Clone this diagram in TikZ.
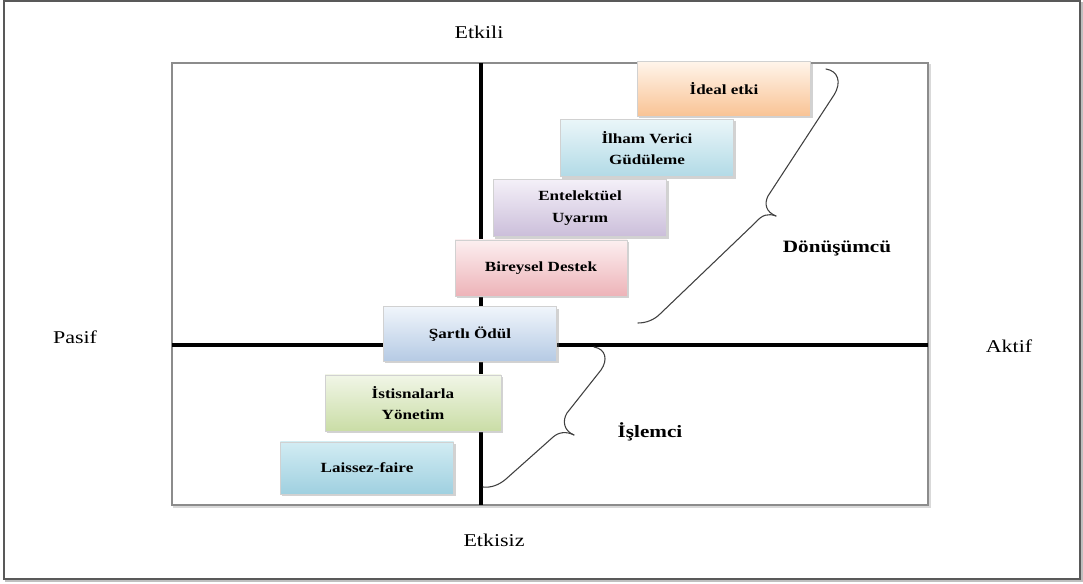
\documentclass[tikz,border=0pt]{standalone}
\usepackage{fontspec}
\setmainfont[FakeStretch=1.22]{Liberation Serif}
\usetikzlibrary{shadows}
\tikzset{
  axis/.style={line width=3pt, black},
  frame/.style={line width=1.3pt, draw=black!65},
  inner/.style={line width=1pt, draw=black!45},
  lbl/.style={font=\fontsize{13.5}{16}\selectfont},
  grp/.style={font=\fontsize{13}{16}\selectfont\bfseries},
  stepbox/.style={rectangle, draw=black!18, line width=0.5pt,
    font=\fontsize{10.5}{14}\selectfont\bfseries, align=center, inner sep=2pt,
    drop shadow={opacity=0.35, shadow xshift=1.6pt, shadow yshift=-1.6pt}},
  bracepath/.style={line width=0.8pt, draw=black!75, line cap=round, line join=round}
}
\definecolor{peach}{HTML}{F9C394}
\definecolor{peachT}{HTML}{FFF4EA}
\definecolor{skyb}{HTML}{B2DAE6}
\definecolor{skybT}{HTML}{EAF6F9}
\definecolor{lilac}{HTML}{CBBEDA}
\definecolor{lilacT}{HTML}{F4F0F8}
\definecolor{rose}{HTML}{EDB3B8}
\definecolor{roseT}{HTML}{FCEFF0}
\definecolor{steel}{HTML}{B5CAE4}
\definecolor{steelT}{HTML}{F0F5FB}
\definecolor{olive}{HTML}{CADDA6}
\definecolor{oliveT}{HTML}{F1F6E7}
\definecolor{teal}{HTML}{9FD0E0}
\definecolor{tealT}{HTML}{D2ECF3}
\begin{document}
\begin{tikzpicture}[x=0.75pt,y=-0.75pt]
\useasboundingbox (0,0) rectangle (1083,584);
% outer frame with shadow
\draw[line width=1.5pt, draw=black!25] (6,3) rectangle (1082,581);
\draw[frame, fill=white] (4,1) rectangle (1080,579);
% inner quadrant frame
\draw[line width=1.2pt, draw=black!15] (174,65) rectangle (930,507);
\draw[inner, fill=white] (172,63) rectangle (928,505);
% axes
\coordinate (top) at (481,63);
\coordinate (bot) at (481,505);
\coordinate (lft) at (172,345);
\coordinate (rgt) at (928,345);
\draw[axis] (top) -- (bot);
\draw[axis] (lft) -- (rgt);
% axis labels
\node[lbl] (etkili) at (479,32) {Etkili};
\node[lbl] (etkisiz) at (494,540) {Etkisiz};
\node[lbl] (pasif) at (75,337) {Pasif};
\node[lbl] (aktif) at (1009,346) {Aktif};
% boxes
\node[stepbox, top color=peachT, bottom color=peach, minimum width=130pt, minimum height=41pt] (ideal) at (724,89) {İdeal etki};
\node[stepbox, top color=skybT, bottom color=skyb, minimum width=130pt, minimum height=43pt] (ilham) at (647,148) {İlham Verici\\[2pt]Güdüleme};
\node[stepbox, top color=lilacT, bottom color=lilac, minimum width=130pt, minimum height=43pt] (entel) at (580,208) {Entelektüel\\[2pt]Uyarım};
\node[stepbox, top color=roseT, bottom color=rose, minimum width=129pt, minimum height=42pt] (birey) at (541,268) {Bireysel Destek};
\node[stepbox, top color=steelT, bottom color=steel, minimum width=130pt, minimum height=41pt] (sartli) at (470,334) {Şartlı Ödül};
\node[stepbox, top color=oliveT, bottom color=olive, minimum width=132pt, minimum height=42pt] (istisna) at (413,403) {İstisnalarla\\[2pt]Yönetim};
\node[stepbox, top color=tealT, bottom color=teal, minimum width=130pt, minimum height=39pt] (laissez) at (367,468) {Laissez-faire};
% group labels
\node[grp] (donus) at (837,248) {Dönüşümcü};
\node[grp] (islem) at (650,432) {İşlemci};
% braces
\draw[bracepath] (826,69) .. controls (838,71) and (842,82) .. (834,95) -- (768,196)
  .. controls (764,204) and (766,212) .. (776,216);
\draw[bracepath] (776,216) .. controls (768,213) and (762,215) .. (756,222) -- (660,314)
  .. controls (654,320) and (646,323) .. (638,323);
\draw[bracepath] (594,347) .. controls (606,349) and (608,360) .. (601,370) -- (567,413)
  .. controls (562,421) and (564,431) .. (574,435);
\draw[bracepath] (574,435) .. controls (566,431) and (558,432) .. (552,438) -- (506,479)
  .. controls (499,485) and (491,488) .. (483,487);
\end{tikzpicture}
\end{document}
